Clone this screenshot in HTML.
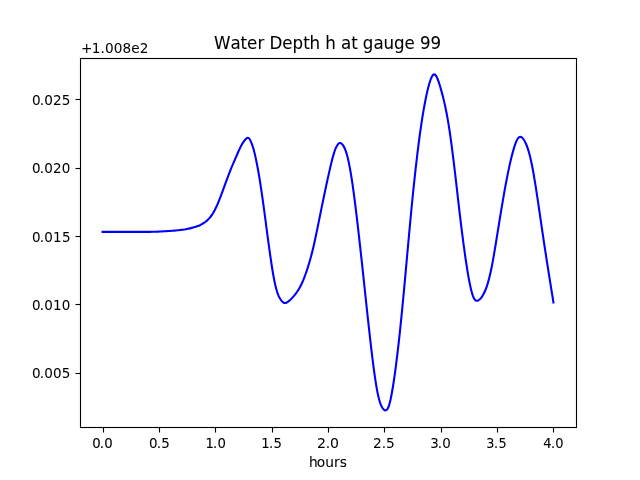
<!DOCTYPE html>
<html lang="en"><head><meta charset="utf-8"><title>Water Depth h at gauge 99</title>
<style>html,body{margin:0;padding:0;background:#fff;overflow:hidden}svg{display:block}text{font-family:'DejaVu Sans','Liberation Sans',sans-serif;fill:#000;stroke:#000;stroke-linejoin:round;font-kerning:none}.t{font-size:13.889px}.ti{font-size:16.667px}.ax{stroke:#000;stroke-width:1;fill:none;stroke-linecap:butt;stroke-linejoin:miter}.fr{stroke:#000;stroke-opacity:.0555;stroke-width:3;fill:none;stroke-linecap:butt;stroke-linejoin:miter}</style></head><body>
<svg width="640" height="480" viewBox="0 0 640 480">
<rect width="640" height="480" fill="#fff"/>
<path class="fr" d="M103.5 428V432.5 M159.5 428V432.5 M215.5 428V432.5 M272.5 428V432.5 M328.5 428V432.5 M384.5 428V432.5 M441.5 428V432.5 M497.5 428V432.5 M553.5 428V432.5 M80 99.5H75.5 M80 168.5H75.5 M80 236.5H75.5 M80 304.5H75.5 M80 373.5H75.5"/>
<path class="ax" d="M103.5 428V432.5 M159.5 428V432.5 M215.5 428V432.5 M272.5 428V432.5 M328.5 428V432.5 M384.5 428V432.5 M441.5 428V432.5 M497.5 428V432.5 M553.5 428V432.5 M80 99.5H75.5 M80 168.5H75.5 M80 236.5H75.5 M80 304.5H75.5 M80 373.5H75.5"/>
<path d="M102.545 231.900L144.000 231.900C144.666 231.900 145.332 231.900 145.997 231.901C146.663 231.901 147.329 231.901 147.995 231.899C148.660 231.896 149.326 231.889 149.992 231.875C150.658 231.861 151.324 231.841 151.989 231.819C152.655 231.797 153.321 231.773 153.987 231.751C154.652 231.729 155.318 231.710 155.984 231.689C156.650 231.668 157.316 231.645 157.981 231.618C158.647 231.591 159.313 231.560 159.979 231.526C160.645 231.492 161.310 231.456 161.976 231.420C162.642 231.384 163.308 231.347 163.973 231.310C164.639 231.273 165.305 231.234 165.971 231.194C166.637 231.153 167.302 231.110 167.968 231.063C168.634 231.017 169.300 230.967 169.965 230.915C170.631 230.863 171.297 230.809 171.963 230.754C172.629 230.700 173.294 230.645 173.960 230.590C174.626 230.534 175.292 230.478 175.957 230.419C176.623 230.361 177.289 230.300 177.955 230.235C178.621 230.169 179.286 230.099 179.952 230.024C180.618 229.948 181.284 229.867 181.949 229.781C182.615 229.694 183.281 229.602 183.947 229.502C184.613 229.403 185.278 229.296 185.944 229.180C186.610 229.065 187.276 228.940 187.942 228.805C188.607 228.670 189.273 228.525 189.939 228.370C190.605 228.216 191.270 228.051 191.936 227.877C192.602 227.704 193.268 227.521 193.934 227.328C194.599 227.134 195.265 226.931 195.931 226.713C196.597 226.496 197.262 226.264 197.928 226.011C198.594 225.759 199.260 225.486 199.926 225.183C200.591 224.880 201.257 224.546 201.923 224.173C202.589 223.799 203.254 223.387 203.920 222.933C204.586 222.479 205.252 221.985 205.918 221.449C206.583 220.912 207.249 220.334 207.915 219.699C208.581 219.063 209.246 218.370 209.912 217.589C210.578 216.807 211.244 215.934 211.910 214.947C212.575 213.960 213.241 212.858 213.907 211.655C214.573 210.453 215.239 209.153 215.904 207.768C216.570 206.384 217.236 204.913 217.902 203.353C218.567 201.794 219.233 200.145 219.899 198.431C220.565 196.716 221.231 194.939 221.896 193.138C222.562 191.337 223.228 189.515 223.894 187.691C224.559 185.867 225.225 184.039 225.891 182.214C226.557 180.390 227.223 178.569 227.888 176.780C228.554 174.990 229.220 173.234 229.886 171.540C230.551 169.846 231.217 168.217 231.883 166.638C232.549 165.059 233.215 163.523 233.880 161.985C234.546 160.446 235.212 158.899 235.878 157.347C236.543 155.794 237.209 154.239 237.875 152.720C238.541 151.202 239.207 149.723 239.872 148.332C240.538 146.940 241.204 145.637 241.870 144.479C242.536 143.320 243.201 142.315 243.867 141.399C244.533 140.483 245.199 139.628 245.864 138.957C246.530 138.287 247.196 137.813 247.862 137.816C248.528 137.819 249.193 138.371 249.859 139.442C250.525 140.512 251.191 142.031 251.856 143.866C252.522 145.700 253.188 147.870 253.854 150.347C254.520 152.825 255.185 155.609 255.851 158.681C256.517 161.752 257.183 165.112 257.848 168.743C258.514 172.375 259.180 176.280 259.846 180.431C260.512 184.582 261.177 188.979 261.843 193.573C262.509 198.166 263.175 202.955 263.840 207.866C264.506 212.776 265.172 217.806 265.838 222.864C266.504 227.921 267.169 233.005 267.835 238.012C268.501 243.020 269.167 247.951 269.833 252.693C270.498 257.435 271.164 261.989 271.830 266.237C272.496 270.485 273.161 274.427 273.827 277.964C274.493 281.500 275.159 284.629 275.825 287.301C276.490 289.974 277.156 292.186 277.822 293.990C278.488 295.794 279.153 297.196 279.819 298.344C280.485 299.493 281.151 300.402 281.817 301.143C282.482 301.885 283.148 302.457 283.814 302.780C284.480 303.102 285.145 303.140 285.811 302.945C286.477 302.750 287.143 302.364 287.809 301.902C288.474 301.439 289.140 300.890 289.806 300.291C290.472 299.692 291.137 299.045 291.803 298.364C292.469 297.683 293.135 296.963 293.801 296.191C294.466 295.418 295.132 294.592 295.798 293.697C296.464 292.803 297.130 291.841 297.795 290.798C298.461 289.755 299.127 288.632 299.793 287.412C300.458 286.191 301.124 284.873 301.790 283.441C302.456 282.009 303.122 280.463 303.787 278.805C304.453 277.147 305.119 275.377 305.785 273.503C306.450 271.630 307.116 269.654 307.782 267.572C308.448 265.490 309.114 263.302 309.779 260.987C310.445 258.671 311.111 256.226 311.777 253.631C312.442 251.037 313.108 248.291 313.774 245.399C314.440 242.507 315.106 239.471 315.771 236.329C316.437 233.188 317.103 229.943 317.769 226.658C318.434 223.373 319.100 220.049 319.766 216.741C320.432 213.432 321.098 210.140 321.763 206.887C322.429 203.635 323.095 200.423 323.761 197.246C324.427 194.070 325.092 190.928 325.758 187.813C326.424 184.699 327.090 181.611 327.755 178.567C328.421 175.523 329.087 172.521 329.753 169.611C330.419 166.701 331.084 163.883 331.750 161.237C332.416 158.591 333.082 156.119 333.747 153.918C334.413 151.717 335.079 149.789 335.745 148.211C336.411 146.632 337.076 145.403 337.742 144.544C338.408 143.686 339.074 143.197 339.739 143.076C340.405 142.955 341.071 143.208 341.737 143.778C342.403 144.347 343.068 145.215 343.734 146.368C344.400 147.522 345.066 148.976 345.731 150.831C346.397 152.687 347.063 154.949 347.729 157.655C348.395 160.361 349.060 163.509 349.726 167.071C350.392 170.634 351.058 174.610 351.724 178.934C352.389 183.259 353.055 187.931 353.721 192.873C354.387 197.815 355.052 203.024 355.718 208.430C356.384 213.835 357.050 219.436 357.716 225.176C358.381 230.916 359.047 236.796 359.713 242.774C360.379 248.753 361.044 254.830 361.710 260.970C362.376 267.110 363.042 273.313 363.708 279.540C364.373 285.766 365.039 292.017 365.705 298.248C366.371 304.479 367.036 310.691 367.702 316.834C368.368 322.976 369.034 329.049 369.700 334.987C370.365 340.925 371.031 346.727 371.697 352.302C372.363 357.877 373.028 363.224 373.694 368.234C374.360 373.244 375.026 377.914 375.692 382.135C376.357 386.356 377.023 390.126 377.689 393.366C378.355 396.605 379.021 399.306 379.686 401.487C380.352 403.669 381.018 405.346 381.684 406.638C382.349 407.930 383.015 408.817 383.681 409.425C384.347 410.032 385.013 410.409 385.678 410.394C386.344 410.378 387.010 409.922 387.676 408.792C388.341 407.661 389.007 405.826 389.673 403.297C390.339 400.769 391.005 397.587 391.670 393.985C392.336 390.383 393.002 386.364 393.668 382.014C394.333 377.664 394.999 372.975 395.665 367.964C396.331 362.954 396.997 357.619 397.662 351.974C398.328 346.329 398.994 340.373 399.660 334.138C400.325 327.903 400.991 321.389 401.657 314.647C402.323 307.905 402.989 300.936 403.654 293.813C404.320 286.690 404.986 279.414 405.652 272.074C406.318 264.734 406.983 257.332 407.649 249.970C408.315 242.608 408.981 235.288 409.646 228.103C410.312 220.917 410.978 213.867 411.644 207.014C412.310 200.162 412.975 193.508 413.641 187.090C414.307 180.672 414.973 174.488 415.638 168.554C416.304 162.619 416.970 156.934 417.636 151.505C418.302 146.077 418.967 140.906 419.633 136.004C420.299 131.102 420.965 126.469 421.630 122.111C422.296 117.754 422.962 113.673 423.628 109.859C424.294 106.045 424.959 102.495 425.625 99.196C426.291 95.897 426.957 92.848 427.622 90.063C428.288 87.277 428.954 84.753 429.620 82.557C430.286 80.361 430.951 78.493 431.617 77.103C432.283 75.714 432.949 74.828 433.615 74.521C434.280 74.215 434.946 74.465 435.612 75.247C436.278 76.029 436.943 77.348 437.609 79.003C438.275 80.659 438.941 82.634 439.607 84.768C440.272 86.902 440.938 89.197 441.604 91.626C442.270 94.056 442.935 96.624 443.601 99.371C444.267 102.119 444.933 105.048 445.599 108.231C446.264 111.414 446.930 114.855 447.596 118.619C448.262 122.383 448.927 126.472 449.593 130.893C450.259 135.314 450.925 140.064 451.591 145.084C452.256 150.105 452.922 155.393 453.588 160.861C454.254 166.329 454.919 171.976 455.585 177.702C456.251 183.429 456.917 189.235 457.583 195.025C458.248 200.816 458.914 206.590 459.580 212.258C460.246 217.927 460.912 223.490 461.577 228.876C462.243 234.262 462.909 239.470 463.575 244.458C464.240 249.446 464.906 254.215 465.572 258.740C466.238 263.266 466.904 267.549 467.569 271.554C468.235 275.558 468.901 279.284 469.567 282.652C470.232 286.019 470.898 289.024 471.564 291.535C472.230 294.046 472.896 296.046 473.561 297.490C474.227 298.934 474.893 299.829 475.559 300.316C476.224 300.804 476.890 300.893 477.556 300.728C478.222 300.563 478.888 300.142 479.553 299.547C480.219 298.951 480.885 298.184 481.551 297.270C482.216 296.356 482.882 295.292 483.548 294.052C484.214 292.812 484.880 291.395 485.545 289.758C486.211 288.120 486.877 286.260 487.543 284.126C488.209 281.993 488.874 279.583 489.540 276.865C490.206 274.146 490.872 271.116 491.537 267.802C492.203 264.487 492.869 260.890 493.535 257.100C494.201 253.310 494.866 249.331 495.532 245.270C496.198 241.208 496.864 237.067 497.529 232.925C498.195 228.783 498.861 224.639 499.527 220.538C500.193 216.436 500.858 212.376 501.524 208.389C502.190 204.402 502.856 200.487 503.521 196.673C504.187 192.859 504.853 189.144 505.519 185.551C506.185 181.958 506.850 178.486 507.516 175.155C508.182 171.825 508.848 168.636 509.513 165.610C510.179 162.585 510.845 159.724 511.511 157.050C512.177 154.375 512.842 151.886 513.508 149.604C514.174 147.322 514.840 145.238 515.506 143.430C516.171 141.622 516.837 140.102 517.503 139.009C518.169 137.916 518.834 137.263 519.500 136.997C520.166 136.730 520.832 136.827 521.498 137.225C522.163 137.623 522.829 138.321 523.495 139.245C524.161 140.168 524.826 141.316 525.492 142.695C526.158 144.074 526.824 145.688 527.490 147.594C528.155 149.500 528.821 151.701 529.487 154.234C530.153 156.767 530.818 159.631 531.484 162.811C532.150 165.991 532.816 169.486 533.482 173.238C534.147 176.991 534.813 181.000 535.479 185.187C536.145 189.374 536.810 193.738 537.476 198.195C538.142 202.652 538.808 207.202 539.474 211.769C540.139 216.336 540.805 220.920 541.471 225.469C542.137 230.017 542.803 234.528 543.468 238.979C544.134 243.430 544.800 247.820 545.466 252.152C546.131 256.484 546.797 260.757 547.463 264.991C548.129 269.224 548.795 273.417 549.460 277.590C550.126 281.764 550.792 285.917 551.458 290.064C552.123 294.211 552.789 298.352 553.455 302.496" fill="none" stroke="#0000ff" stroke-width="2.083" stroke-linecap="square" stroke-linejoin="round"/>
<path class="fr" d="M80.5 57V429M576.5 57V429M79 427.5H578M79 58.5H578"/>
<rect class="ax" x="80.5" y="58.5" width="496" height="369"/>
<text class="t" transform="scale(0.9559 1.0114)" x="96.43 104.45 108.98" y="443.36" stroke-width="0.126">0.0</text>
<text class="t" transform="scale(0.9696 0.9743)" x="153.80 161.77 166.27" y="459.89" stroke-width="0.052">0.5</text>
<text class="t" transform="scale(0.9526 0.9882)" x="215.60 223.50 228.37" y="453.54" stroke-width="0.111">1.0</text>
<text class="t" transform="scale(0.9552 0.9912)" x="273.39 281.74 286.31" y="452.41" stroke-width="0.062">1.5</text>
<text class="t" transform="scale(1.0142 1.0524)" x="312.45 321.13 325.47" y="425.93" stroke-width="0.035">2.0</text>
<text class="t" transform="scale(0.9864 0.9839)" x="378.22 387.03 391.45" y="455.31" stroke-width="0.015">2.5</text>
<text class="t" transform="scale(0.9684 0.9815)" x="444.18 452.14 456.64" y="456.61" stroke-width="0.025">3.0</text>
<text class="t" transform="scale(0.9219 1.0038)" x="527.59 535.87 540.82" y="446.51" stroke-width="0.059">3.5</text>
<text class="t" transform="scale(0.9367 0.9909)" x="579.84 588.32 592.70" y="452.56" stroke-width="0.089">4.0</text>
<text class="t" transform="scale(0.9904 1.0603)" x="311.88 319.89 328.39 337.17 342.96" y="440.29" stroke-width="0.056">hours</text>
<text class="t" transform="scale(0.9792 1.0122)" x="32.57 40.56 45.19 54.21 62.96" y="103.37" stroke-width="0.060">0.025</text>
<text class="t" transform="scale(0.9709 1.0118)" x="32.87 40.92 45.59 54.68 63.51" y="171.09" stroke-width="0.060">0.020</text>
<text class="t" transform="scale(0.9713 1.0283)" x="32.85 40.89 45.57 54.65 63.74" y="235.14" stroke-width="0.035">0.015</text>
<text class="t" transform="scale(0.9727 1.0498)" x="33.04 40.84 45.50 54.59 63.41" y="295.00" stroke-width="0.042">0.010</text>
<text class="t" transform="scale(0.9774 1.0177)" x="32.68 40.67 45.31 54.33 63.10" y="371.64" stroke-width="0.035">0.005</text>
<text class="t" transform="scale(0.9827 0.9522)" x="82.35 93.47 102.30 106.96 115.79 124.63 133.44 142.24" y="55.85" stroke-width="0.032">+1.008e2</text>
<text class="ti" transform="scale(1.0030 1.0238)" x="213.47 229.80 239.81 246.17 256.83 263.37 268.63 281.36 291.52 302.26 308.62 318.95 324.33 334.68 339.93 350.32 356.55 361.80 372.29 382.41 392.89 403.38 413.55 418.80 429.32" y="47.65" stroke-width="0.062">Water Depth h at gauge 99</text>
</svg></body></html>
